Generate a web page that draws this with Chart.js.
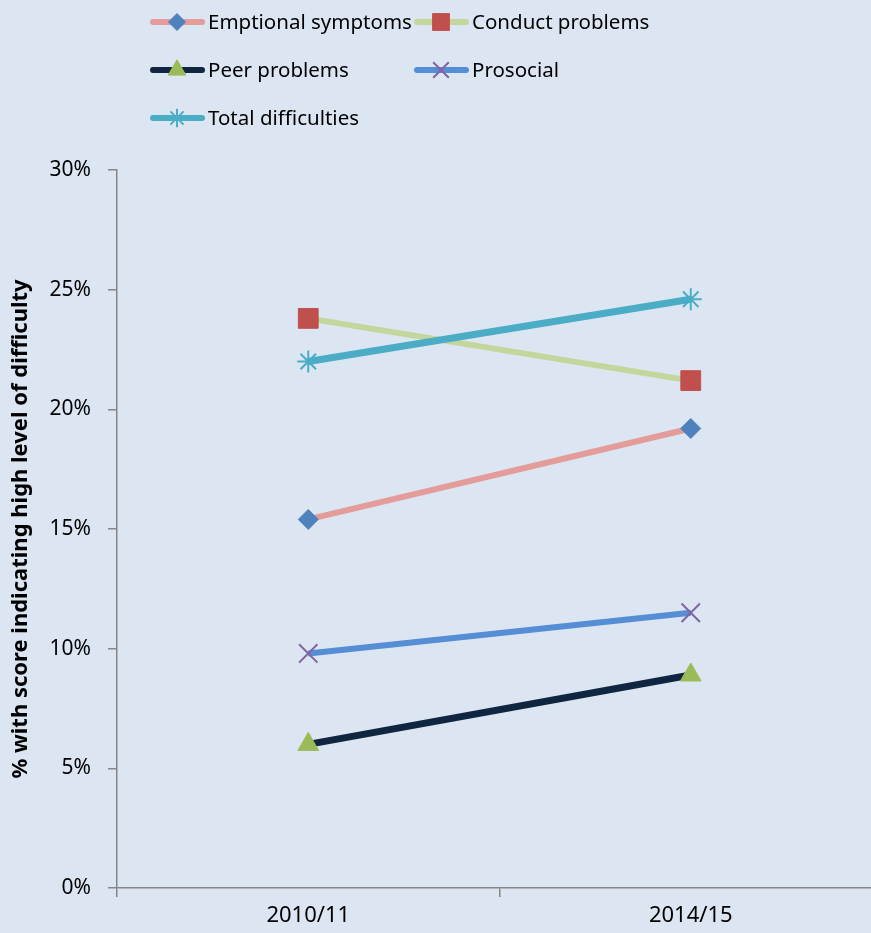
<!DOCTYPE html>
<html lang="en">
<head>
  <meta charset="UTF-8">
  <title>Difficulty scores 2010/11 vs 2014/15</title>
  <script src="https://cdn.jsdelivr.net/npm/chart.js"></script>
  <style>
    html, body { margin: 0; padding: 0; overflow: hidden; background: #dce6f2; }
    canvas { display: block; }
  </style>
</head>
<body>
  <canvas id="chart" width="897" height="933"></canvas>
  <script>
    // data
    const years = ['2010/11', '2014/15'];
    const emotional = [15.4, 19.2];
    const conduct = [23.8, 21.2];
    const peer = [6.0, 8.9];
    const prosocial = [9.8, 11.5];
    const total = [22.0, 24.6];
    const yTicks = [0, 5, 10, 15, 20, 25, 30];

    const axisGrey = '#868686';
    const font = 'Noto Sans';

    function series(label, data, line, marker, style, radius, bw, order, lw) {
      return {
        label: label, data: data, order: order,
        borderColor: line, borderWidth: lw,
        pointStyle: style, pointRadius: radius, pointHoverRadius: radius,
        pointBackgroundColor: marker, pointBorderColor: marker, pointBorderWidth: bw,
        tension: 0
      };
    }

    // legend: line + marker, two columns like the original
    const lineLegend = {
      id: 'lineLegend',
      afterDraw(chart) {
        const ctx = chart.ctx;
        const cols = [153, 417], rows = [22, 70, 118];
        ctx.save();
        chart.data.datasets.forEach((ds, i) => {
          const x = cols[i % 2], y = rows[Math.floor(i / 2)];
          ctx.strokeStyle = ds.borderColor;
          ctx.lineWidth = 6;
          ctx.lineCap = 'round';
          ctx.beginPath(); ctx.moveTo(x, y); ctx.lineTo(x + 49, y); ctx.stroke();
          ctx.lineCap = 'butt';
          ctx.fillStyle = ds.pointBackgroundColor;
          ctx.strokeStyle = ds.pointBorderColor;
          ctx.lineWidth = ds.pointBorderWidth;
          Chart.helpers.drawPoint(ctx, {
            pointStyle: ds.pointStyle, radius: ds.pointRadius * 0.85,
            rotation: 0, borderWidth: ds.pointBorderWidth
          }, x + 24, y);
          ctx.fillStyle = '#000';
          ctx.font = '20.5px "' + font + '"';
          ctx.textBaseline = 'middle';
          ctx.fillText(ds.label, x + 55, y + 1);
        });
        ctx.restore();
      }
    };

    new Chart(document.getElementById('chart'), {
      type: 'line',
      data: {
        labels: years,
        datasets: [
          series('Emptional symptoms', emotional, '#e39c99', '#4f81bd', 'rectRot', 10, 1, 5, 6),
          series('Conduct problems', conduct, '#c3d69b', '#c0504d', 'rect', 14, 1, 4, 6),
          series('Peer problems', peer, '#10253f', '#9bbb59', 'triangle', 12, 1, 3, 7),
          series('Prosocial', prosocial, '#558ed5', '#8064a2', 'crossRot', 13, 2, 2, 6),
          series('Total difficulties', total, '#4bacc6', '#4bacc6', 'star', 11, 2, 1, 7)
        ]
      },
      options: {
        responsive: false,
        animation: false,
        layout: { padding: { top: 170, left: 0, right: 0, bottom: 0 } },
        plugins: { legend: { display: false }, tooltip: { enabled: false } },
        scales: {
          x: {
            offset: true,
            grid: { offset: true, drawOnChartArea: false, drawTicks: true, tickLength: 9, color: axisGrey, lineWidth: 1.5 },
            border: { color: axisGrey, width: 1.5 },
            ticks: { color: '#000', font: { family: font, size: 22 }, padding: 6, maxRotation: 0 },
            afterFit(scale) { scale.height = 45; }
          },
          y: {
            min: 0, max: 30,
            afterBuildTicks(scale) { scale.ticks = yTicks.map(v => ({ value: v })); },
            grid: { drawOnChartArea: false, drawTicks: true, tickLength: 9, color: axisGrey, lineWidth: 1.5 },
            border: { color: axisGrey, width: 1.5 },
            ticks: { color: '#000', font: { family: font, size: 21 }, padding: 17, callback: v => v + '%' },
            title: {
              display: true,
              text: '% with score indicating high level of difficulty',
              color: '#000',
              font: { family: font, size: 22, weight: 'bold' },
              padding: { top: 8, bottom: 0 }
            },
            afterFit(scale) { scale.width = 117; }
          }
        }
      },
      plugins: [lineLegend]
    });
  </script>
</body>
</html>
